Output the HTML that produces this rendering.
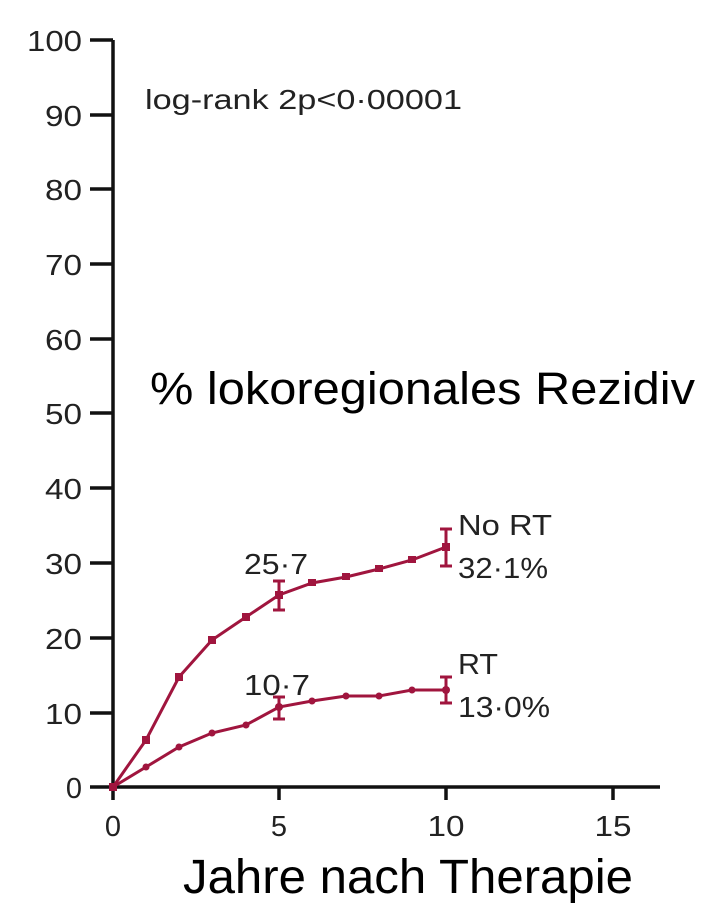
<!DOCTYPE html>
<html><head><style>body{margin:0;background:#fff}</style></head><body>
<svg width="724" height="918" viewBox="0 0 724 918" xmlns="http://www.w3.org/2000/svg" font-family="Liberation Sans, sans-serif">
<rect width="724" height="918" fill="#fff"/>
<g stroke="#111" stroke-width="3.5" fill="none">
<path d="M113 40 V787 H660"/>
<path d="M90 40H113M90 115H113M90 189H113M90 264H113M90 339H113M90 413H113M90 488H113M90 563H113M90 638H113M90 713H113M90 787H113"/>
<path d="M113 787V800M279 787V800M446 787V800M613 787V800"/>
</g>
<g font-size="29" fill="#222" text-anchor="end">
<text x="82" y="51" textLength="55" lengthAdjust="spacingAndGlyphs">100</text><text x="82" y="126" textLength="37" lengthAdjust="spacingAndGlyphs">90</text><text x="82" y="200" textLength="37" lengthAdjust="spacingAndGlyphs">80</text><text x="82" y="275" textLength="37" lengthAdjust="spacingAndGlyphs">70</text><text x="82" y="350" textLength="37" lengthAdjust="spacingAndGlyphs">60</text><text x="82" y="424" textLength="37" lengthAdjust="spacingAndGlyphs">50</text><text x="82" y="499" textLength="37" lengthAdjust="spacingAndGlyphs">40</text><text x="82" y="574" textLength="37" lengthAdjust="spacingAndGlyphs">30</text><text x="82" y="649" textLength="37" lengthAdjust="spacingAndGlyphs">20</text><text x="82" y="724" textLength="37" lengthAdjust="spacingAndGlyphs">10</text><text x="82" y="798">0</text>
</g>
<g font-size="29" fill="#222" text-anchor="middle">
<text x="113" y="836">0</text><text x="279" y="836">5</text><text x="446" y="836" textLength="37" lengthAdjust="spacingAndGlyphs">10</text><text x="613" y="836" textLength="37" lengthAdjust="spacingAndGlyphs">15</text>
</g>
<text x="145" y="109" font-size="28" fill="#222" textLength="317" lengthAdjust="spacingAndGlyphs">log-rank 2p&lt;0·00001</text>
<text x="150" y="404" font-size="45" fill="#000" textLength="545" lengthAdjust="spacingAndGlyphs">% lokoregionales Rezidiv</text>
<text x="183" y="893" font-size="48" fill="#000" textLength="450" lengthAdjust="spacingAndGlyphs">Jahre nach Therapie</text>
<g stroke="#a0153e" stroke-width="3" fill="none">
<polyline points="113,787 146,740 179,677 212,640 246,617 279,595 312,583 346,577 379,569 412,560 446,547"/>
<polyline points="113,787 146,767 179,747 212,733 246,725 279,707 312,701 346,696 379,696 412,690 446,690"/>
<path d="M279 581V610M273 581H285M273 610H285M446 529V566M440 529H452M440 566H452M279 697V719M273 697H285M273 719H285M446 677V703M440 677H452M440 703H452"/>
</g>
<g fill="#a0153e">
<rect x="109" y="783" width="8" height="8"/>
<rect x="142" y="736" width="8" height="8"/><rect x="175" y="673" width="8" height="8"/><rect x="208" y="636" width="8" height="8"/><rect x="242" y="613" width="8" height="8"/><rect x="275" y="591" width="8" height="8"/><rect x="308" y="579" width="8" height="7"/><rect x="342" y="573" width="8" height="7"/><rect x="375" y="565" width="8" height="7"/><rect x="408" y="556" width="8" height="7"/><rect x="442" y="543" width="8" height="8"/>
<circle cx="146" cy="767" r="3.5"/><circle cx="179" cy="747" r="3.5"/><circle cx="212" cy="733" r="3.5"/><circle cx="246" cy="725" r="3.5"/><circle cx="279" cy="707" r="4"/><circle cx="312" cy="701" r="3.5"/><circle cx="346" cy="696" r="3.5"/><circle cx="379" cy="696" r="3.5"/><circle cx="412" cy="690" r="3.5"/><circle cx="446" cy="690" r="4"/>
</g>
<g font-size="29" fill="#222">
<text x="244" y="574" textLength="64" lengthAdjust="spacingAndGlyphs">25·7</text>
<text x="244" y="695" textLength="66" lengthAdjust="spacingAndGlyphs">10·7</text>
<text x="458" y="535" textLength="94" lengthAdjust="spacingAndGlyphs">No RT</text>
<text x="458" y="578" textLength="90" lengthAdjust="spacingAndGlyphs">32·1%</text>
<text x="458" y="674" textLength="40" lengthAdjust="spacingAndGlyphs">RT</text>
<text x="458" y="717" textLength="92" lengthAdjust="spacingAndGlyphs">13·0%</text>
</g>
</svg>
</body></html>
